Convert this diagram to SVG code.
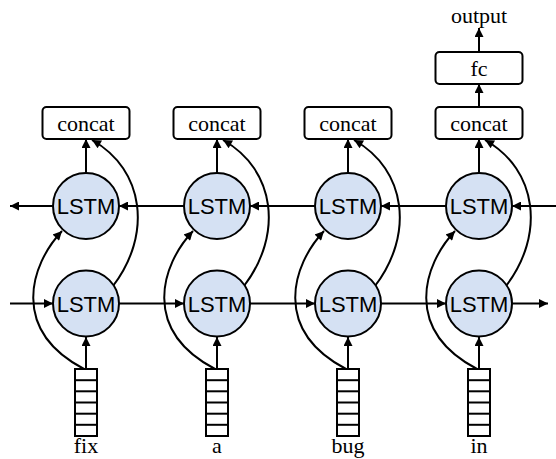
<svg xmlns="http://www.w3.org/2000/svg" width="556" height="459" viewBox="0 0 556 459">
<defs>
<marker id="ah" viewBox="0 0 10 10" refX="10" refY="5" markerWidth="11" markerHeight="9" markerUnits="userSpaceOnUse" orient="auto">
<path d="M0,0 L10,5 L0,10 Z" fill="#000"/>
</marker>
<style>
.lstm circle{fill:#d5e1f3;stroke:#000;stroke-width:2}
.lstm text{font-family:"Liberation Sans",Arial,sans-serif;font-size:22px;text-anchor:middle}
.box rect{fill:#fff;stroke:#000;stroke-width:2}
.box text,.lbl{font-family:"Liberation Serif","Times New Roman",serif;font-size:22px;text-anchor:middle}
.vec rect{fill:#fff;stroke:#000;stroke-width:2}
.vec line{stroke:#000;stroke-width:2}
#connectors path{fill:none;stroke:#000;stroke-width:2;marker-end:url(#ah)}
</style>
</defs>
<rect width="556" height="459" fill="#fff"/>

<g id="connectors">
<path d="M53,206 L10,206"/>
<path d="M184,206 L119,206"/>
<path d="M315,206 L250,206"/>
<path d="M446,206 L381,206"/>
<path d="M556,206 L512,206"/>
<path d="M10,303.5 L53,303.5"/>
<path d="M119,303.5 L184,303.5"/>
<path d="M250,303.5 L315,303.5"/>
<path d="M381,303.5 L446,303.5"/>
<path d="M512,303.5 L548,303.5"/>
<path d="M86,173 L86,139"/>
<path d="M217,173 L217,139"/>
<path d="M348,173 L348,139"/>
<path d="M479,173 L479,139"/>
<path d="M86,369 L86,337"/>
<path d="M217,369 L217,337"/>
<path d="M348,369 L348,337"/>
<path d="M479,369 L479,337"/>
<path d="M113,286 C152,235 145,170 92,140"/>
<path d="M244,286 C283,235 276,170 223,140"/>
<path d="M375,286 C414,235 407,170 354,140"/>
<path d="M506,286 C545,235 538,170 485,140"/>
<path d="M84,369 C10,330 30,265 62,231"/>
<path d="M215,369 C141,330 161,265 193,231"/>
<path d="M346,369 C272,330 292,265 324,231"/>
<path d="M477,369 C403,330 423,265 455,231"/>
<path d="M479,107 L479,84"/>
<path d="M479,52 L479,28"/>
</g>

<g id="concat1" class="box"><rect x="42.5" y="107" width="87" height="32" rx="4"/><text x="86" y="131">concat</text></g>
<g id="concat2" class="box"><rect x="173.5" y="107" width="87" height="32" rx="4"/><text x="217" y="131">concat</text></g>
<g id="concat3" class="box"><rect x="304.5" y="107" width="87" height="32" rx="4"/><text x="348" y="131">concat</text></g>
<g id="concat4" class="box"><rect x="435.5" y="107" width="87" height="32" rx="4"/><text x="479" y="131">concat</text></g>
<g id="fc" class="box"><rect x="435.5" y="52" width="87" height="32" rx="4"/><text x="479" y="76">fc</text></g>
<g id="output"><text class="lbl" x="479" y="23">output</text></g>

<g id="lstm_b1" class="lstm"><circle cx="86" cy="206" r="33"/><text x="86" y="214">LSTM</text></g>
<g id="lstm_b2" class="lstm"><circle cx="217" cy="206" r="33"/><text x="217" y="214">LSTM</text></g>
<g id="lstm_b3" class="lstm"><circle cx="348" cy="206" r="33"/><text x="348" y="214">LSTM</text></g>
<g id="lstm_b4" class="lstm"><circle cx="479" cy="206" r="33"/><text x="479" y="214">LSTM</text></g>

<g id="lstm_f1" class="lstm"><circle cx="86" cy="303.5" r="33"/><text x="86" y="311.5">LSTM</text></g>
<g id="lstm_f2" class="lstm"><circle cx="217" cy="303.5" r="33"/><text x="217" y="311.5">LSTM</text></g>
<g id="lstm_f3" class="lstm"><circle cx="348" cy="303.5" r="33"/><text x="348" y="311.5">LSTM</text></g>
<g id="lstm_f4" class="lstm"><circle cx="479" cy="303.5" r="33"/><text x="479" y="311.5">LSTM</text></g>

<g id="vec1" class="vec"><rect x="75" y="369" width="22" height="67"/>
<line x1="75" y1="380.2" x2="97" y2="380.2"/><line x1="75" y1="391.3" x2="97" y2="391.3"/><line x1="75" y1="402.5" x2="97" y2="402.5"/><line x1="75" y1="413.7" x2="97" y2="413.7"/><line x1="75" y1="424.8" x2="97" y2="424.8"/>
<text class="lbl" x="86" y="453">fix</text></g>
<g id="vec2" class="vec"><rect x="206" y="369" width="22" height="67"/>
<line x1="206" y1="380.2" x2="228" y2="380.2"/><line x1="206" y1="391.3" x2="228" y2="391.3"/><line x1="206" y1="402.5" x2="228" y2="402.5"/><line x1="206" y1="413.7" x2="228" y2="413.7"/><line x1="206" y1="424.8" x2="228" y2="424.8"/>
<text class="lbl" x="217" y="453">a</text></g>
<g id="vec3" class="vec"><rect x="337" y="369" width="22" height="67"/>
<line x1="337" y1="380.2" x2="359" y2="380.2"/><line x1="337" y1="391.3" x2="359" y2="391.3"/><line x1="337" y1="402.5" x2="359" y2="402.5"/><line x1="337" y1="413.7" x2="359" y2="413.7"/><line x1="337" y1="424.8" x2="359" y2="424.8"/>
<text class="lbl" x="348" y="453">bug</text></g>
<g id="vec4" class="vec"><rect x="468" y="369" width="22" height="67"/>
<line x1="468" y1="380.2" x2="490" y2="380.2"/><line x1="468" y1="391.3" x2="490" y2="391.3"/><line x1="468" y1="402.5" x2="490" y2="402.5"/><line x1="468" y1="413.7" x2="490" y2="413.7"/><line x1="468" y1="424.8" x2="490" y2="424.8"/>
<text class="lbl" x="479" y="453">in</text></g>
</svg>
